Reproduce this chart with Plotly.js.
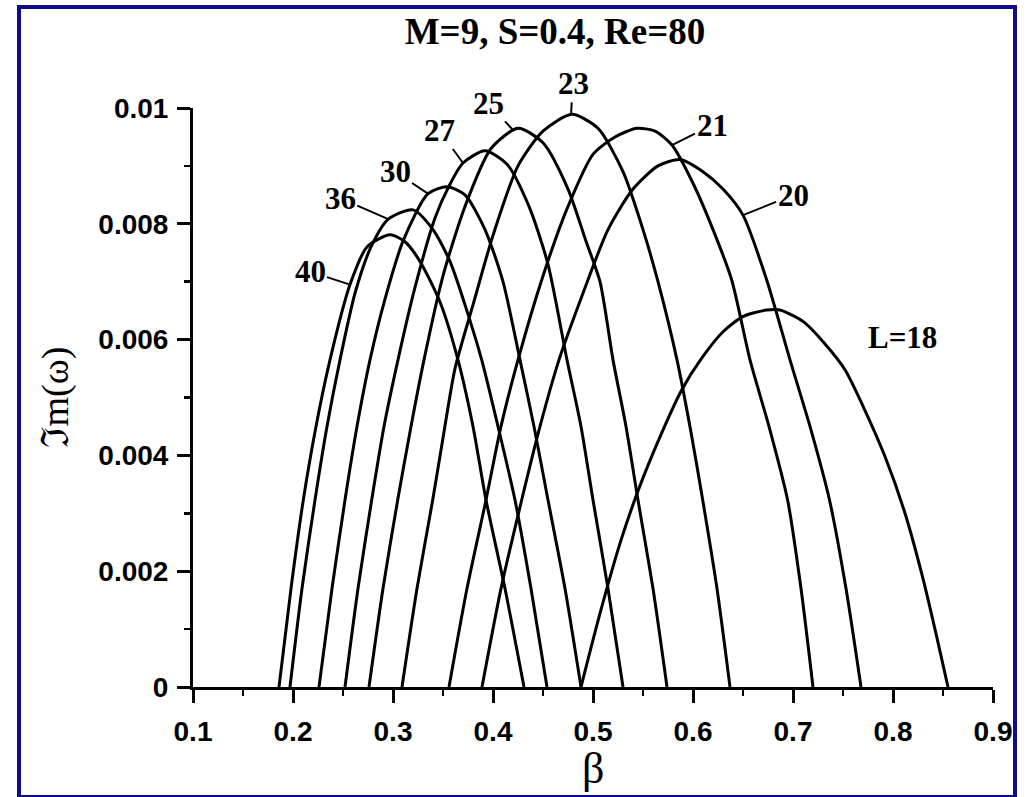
<!DOCTYPE html>
<html>
<head>
<meta charset="utf-8">
<script src="https://cdn.plot.ly/plotly-3.0.1.min.js"></script>
<style>
  html, body { margin: 0; padding: 0; background: #ffffff; overflow: hidden; }
  #wrap { position: relative; width: 1030px; height: 797px; }
  #chart { position: absolute; left: 0; top: 0; width: 1030px; height: 797px; }
  #frame {
    position: absolute; left: 17px; top: 5px; width: 1000px; height: 794px;
    box-sizing: border-box; border: 4px solid #0d0d8c; pointer-events: none;
  }
</style>
</head>
<body>
<div id="wrap">
  <div id="chart"></div>
  <div id="frame"></div>
</div>
<script>
// Growth rate Im(omega) against wavenumber beta, one curve per L
const curveNames = ['40', '36', '30', '27', '25', '23', '21', '20', 'L=18'];

const beta40 = [0.186, 0.198, 0.2103, 0.223, 0.237, 0.257, 0.274, 0.297, 0.312, 0.327, 0.347, 0.365, 0.380, 0.393, 0.412, 0.431];
const im40   = [0, 0.0017, 0.00323, 0.0045, 0.00565, 0.00695, 0.0076, 0.00781, 0.00769, 0.00735, 0.00665, 0.00565, 0.0045, 0.00323, 0.0017, 0];

const beta36 = [0.197, 0.209, 0.222, 0.234, 0.247, 0.262, 0.278, 0.2953, 0.320, 0.340, 0.357, 0.372, 0.3887, 0.405, 0.422, 0.438, 0.454];
const im36   = [0, 0.0017, 0.00323, 0.0045, 0.00565, 0.0068, 0.0076, 0.00808, 0.00824, 0.0079, 0.00735, 0.0066, 0.00565, 0.0045, 0.00323, 0.0017, 0];

const beta30 = [0.226, 0.239, 0.252, 0.264, 0.277, 0.292, 0.310, 0.335, 0.354, 0.372, 0.392, 0.410, 0.427, 0.441, 0.455, 0.472, 0.488];
const im30   = [0, 0.0017, 0.00323, 0.0045, 0.00565, 0.0067, 0.0077, 0.00852, 0.00864, 0.0085, 0.0079, 0.0070, 0.00565, 0.0045, 0.00323, 0.0017, 0];

const beta27 = [0.252, 0.265, 0.2787, 0.291, 0.305, 0.322, 0.342, 0.356, 0.370, 0.392, 0.414, 0.436, 0.455, 0.474, 0.488, 0.500, 0.515, 0.530];
const im27   = [0, 0.0017, 0.00323, 0.0045, 0.00565, 0.0069, 0.0081, 0.00865, 0.00905, 0.00926, 0.00903, 0.0083, 0.0073, 0.00565, 0.0045, 0.00323, 0.0017, 0];

const beta25 = [0.276, 0.290, 0.3047, 0.318, 0.331, 0.350, 0.372, 0.398, 0.425, 0.450, 0.475, 0.493, 0.507, 0.520, 0.533, 0.545, 0.560, 0.574];
const im25   = [0, 0.0017, 0.00323, 0.0045, 0.00565, 0.0071, 0.0083, 0.0093, 0.00965, 0.0094, 0.0086, 0.0077, 0.0070, 0.00565, 0.0045, 0.00323, 0.0017, 0];

const beta23 = [0.309, 0.324, 0.3397, 0.350, 0.362, 0.380, 0.400, 0.425, 0.450, 0.479, 0.505, 0.530, 0.550, 0.565, 0.584, 0.598, 0.6097, 0.624, 0.637];
const im23   = [0, 0.0017, 0.00323, 0.0043, 0.0055, 0.0066, 0.0078, 0.0090, 0.0096, 0.00989, 0.00965, 0.0089, 0.0079, 0.0070, 0.00565, 0.0044, 0.00323, 0.0017, 0];

const beta21 = [0.356, 0.374, 0.393, 0.408, 0.425, 0.450, 0.475, 0.500, 0.522, 0.544, 0.562, 0.579, 0.600, 0.620, 0.6387, 0.657, 0.676, 0.6946, 0.708, 0.720];
const im21   = [0, 0.0017, 0.00323, 0.0045, 0.00565, 0.0071, 0.0083, 0.0092, 0.0095, 0.00965, 0.0096, 0.00936, 0.0087, 0.0079, 0.00703, 0.00565, 0.0045, 0.00323, 0.0017, 0];

const beta20 = [0.389, 0.408, 0.4287, 0.447, 0.466, 0.490, 0.515, 0.540, 0.565, 0.587, 0.610, 0.630, 0.650, 0.6737, 0.697, 0.717, 0.7365, 0.753, 0.768];
const im20   = [0, 0.0017, 0.00323, 0.0045, 0.00565, 0.0068, 0.0079, 0.0086, 0.0090, 0.00911, 0.0089, 0.0086, 0.00815, 0.00703, 0.00565, 0.0045, 0.00323, 0.0017, 0];

const beta18 = [0.488, 0.507, 0.527, 0.5453, 0.567, 0.5887, 0.6087, 0.6303, 0.6503, 0.6737, 0.687, 0.7103, 0.7303, 0.752, 0.7703, 0.792, 0.812, 0.8303, 0.8437, 0.855];
const im18   = [0, 0.00127, 0.00248, 0.0034, 0.00432, 0.00513, 0.00568, 0.00614, 0.0064, 0.00651, 0.00651, 0.00631, 0.00596, 0.00548, 0.00484, 0.00398, 0.0030, 0.00185, 0.00087, 0];

const betaSets = [beta40, beta36, beta30, beta27, beta25, beta23, beta21, beta20, beta18];
const imSets   = [im40, im36, im30, im27, im25, im23, im21, im20, im18];

// Curve labels: anchor point on the curve and offset (px) of the text from it
const labelText = ['40', '36', '30', '27', '25', '23', '21', '20'];
const labelBeta = [0.257, 0.2953, 0.335, 0.370, 0.420, 0.478, 0.579, 0.650];
const labelIm   = [0.00695, 0.00808, 0.00852, 0.00905, 0.00962, 0.00989, 0.00936, 0.00815];
const labelDx   = [-40, -48, -33, -24, -25, 2, 40, 50];
const labelDy   = [-13, -21, -22, -33, -27, -31, -20, -20];

const traces = betaSets.map((b, i) => ({
  type: 'scatter',
  mode: 'lines',
  name: curveNames[i],
  x: b,
  y: imSets[i],
  line: { color: '#000000', width: 3, shape: 'spline', smoothing: 0.7 },
  hoverinfo: 'skip'
}));

const serifBold = { family: 'Liberation Serif, Times New Roman, serif', size: 31, color: '#000000', weight: 'bold' };

const annotations = labelText.map((t, i) => ({
  x: labelBeta[i], y: labelIm[i], xref: 'x', yref: 'y',
  text: t, showarrow: true, arrowhead: 0, arrowwidth: 2, arrowcolor: '#000000',
  ax: labelDx[i], ay: labelDy[i], standoff: 0,
  font: serifBold
}));

annotations.push({
  x: 0.809, y: 0.00603, xref: 'x', yref: 'y', showarrow: false,
  text: 'L=18', font: serifBold
});

// axis titles
annotations.push({
  x: 0.5, y: -0.141, xref: 'paper', yref: 'paper', xanchor: 'center', yanchor: 'middle', showarrow: false,
  text: 'β', font: { family: 'Liberation Serif, Times New Roman, serif', size: 44, color: '#000000' }
});
annotations.push({
  x: -0.1725, y: 0.5, xref: 'paper', yref: 'paper', xanchor: 'center', yanchor: 'middle', showarrow: false, textangle: -90,
  text: 'ℑm(ω)', font: { family: 'Liberation Serif, DejaVu Serif, serif', size: 38, color: '#000000' }
});

const tickFont = { family: 'Liberation Sans, Arial, sans-serif', size: 28, color: '#000000', weight: 'bold' };

const layout = {
  width: 1030, height: 797,
  margin: { l: 193, r: 37, t: 108, b: 110 },
  paper_bgcolor: '#ffffff', plot_bgcolor: '#ffffff',
  showlegend: false,
  title: {
    text: 'M=9, S=0.4, Re=80',
    x: 555 / 1030, xref: 'container', xanchor: 'center',
    y: 1 - 31 / 797, yref: 'container', yanchor: 'middle',
    font: { family: 'Liberation Serif, Times New Roman, serif', size: 37, color: '#000000', weight: 'bold' }
  },
  xaxis: {
    range: [0.1, 0.9], dtick: 0.1, tick0: 0.1,
    showline: true, linecolor: '#000000', linewidth: 3, mirror: false,
    showgrid: false, zeroline: false,
    ticks: 'outside', ticklen: 13, tickwidth: 3, tickcolor: '#000000',
    ticklabelstandoff: 4,
    minor: { dtick: 0.05, ticks: 'outside', ticklen: 6, tickwidth: 2.5, tickcolor: '#000000', showgrid: false },
    tickfont: tickFont
  },
  yaxis: {
    range: [0, 0.01], dtick: 0.002, tick0: 0,
    showline: true, linecolor: '#000000', linewidth: 3, mirror: false,
    showgrid: false, zeroline: false,
    ticks: 'outside', ticklen: 13, tickwidth: 3, tickcolor: '#000000',
    ticklabelstandoff: 3,
    minor: { dtick: 0.001, ticks: 'outside', ticklen: 6, tickwidth: 2.5, tickcolor: '#000000', showgrid: false },
    tickfont: tickFont
  },
  annotations: annotations
};

Plotly.newPlot('chart', traces, layout, { staticPlot: true, displayModeBar: false });
</script>
</body>
</html>
